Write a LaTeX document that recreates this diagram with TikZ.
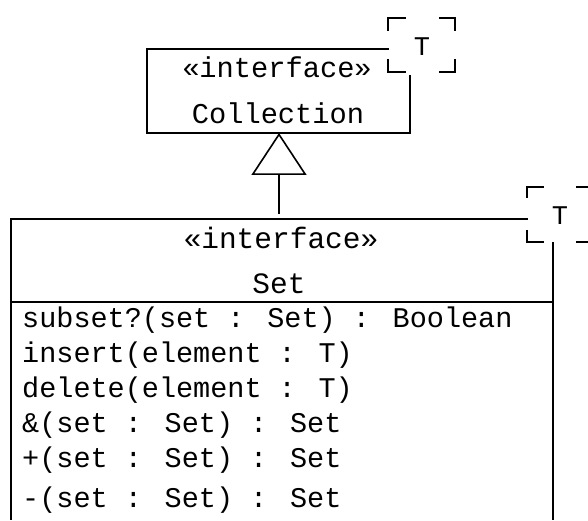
\documentclass[tikz,border=0pt]{standalone}
\usepackage{fontspec}
\setmainfont{Liberation Mono}
\usetikzlibrary{arrows.meta}
\tikzset{
  umlline/.style={line width=1.6pt, line cap=rect},
  bracketline/.style={line width=1.6pt, line cap=rect},
  optext/.style={inner sep=0pt, anchor=base west, font=\fontsize{28.5}{34}\selectfont},
  headtext/.style={inner sep=0pt, anchor=base, font=\fontsize{29.5}{35}\selectfont},
  collhead/.style={inner sep=0pt, anchor=base, font=\fontsize{28.7}{34}\selectfont},
  tparam/.style={inner sep=0pt, anchor=base, font=\fontsize{27}{32}\selectfont},
  genarrow/.style={line width=1.6pt, -{Triangle[open, length=42pt, width=55pt, line width=1.6pt]}}
}
\begin{document}
\begin{tikzpicture}[x=1pt,y=-1pt]
\useasboundingbox (0,0) rectangle (588,521);

% ---------- Collection box ----------
\coordinate (cNW) at (147,49);
\coordinate (cSW) at (147,133);
\coordinate (cSE) at (410,133);
\coordinate (cTopEnd) at (388,49);
\coordinate (cRightStart) at (410,76);
\draw[umlline] (cTopEnd) -- (cNW) -- (cSW) -- (cSE) -- (cRightStart);
\node[collhead] (collstereo) at (277,78) {«interface»};
\node[collhead] (collname) at (278,124) {Collection};

% template bracket of Collection
\draw[bracketline] (388,30) -- (388,18) -- (405,18);
\draw[bracketline] (440,18) -- (455,18) -- (455,30);
\draw[bracketline] (388,60) -- (388,72) -- (405,72);
\draw[bracketline] (440,72) -- (455,72) -- (455,60);
\node[tparam] (collT) at (422,56) {T};

% ---------- Set box ----------
\coordinate (sTopEnd) at (527,219);
\coordinate (sNW) at (11,219);
\coordinate (sSW) at (11,519);
\coordinate (sRightStart) at (553,243);
\coordinate (sSE) at (553,519);
\draw[umlline] (sTopEnd) -- (sNW) -- (sSW);
\draw[umlline] (sRightStart) -- (sSE);
\coordinate (divW) at (11,302);
\coordinate (divE) at (553,302);
\draw[umlline] (divW) -- (divE);

\node[headtext] (setstereo) at (281,248) {«interface»};
\node[headtext] (setname) at (279,293) {Set};

% template bracket of Set
\draw[bracketline] (527,197) -- (527,187) -- (543,187);
\draw[bracketline] (577,187) -- (593,187) -- (593,197);
\draw[bracketline] (527,231) -- (527,242) -- (543,242);
\draw[bracketline] (577,242) -- (593,242) -- (593,231);
\node[tparam] (setT) at (560,224) {T};

% operations
\node[optext] (op1) at (22,327) {subset?(set : Set) : Boolean};
\node[optext] (op2) at (22,362) {insert(element : T)};
\node[optext] (op3) at (22,397) {delete(element : T)};
\node[optext] (op4) at (22,432) {\&(set : Set) : Set};
\node[optext] (op5) at (22,467) {+(set : Set) : Set};
\node[optext] (op6) at (22,507) {-(set : Set) : Set};

% ---------- generalization ----------
\coordinate (setTop) at (279,214);
\coordinate (collBot) at (279,133);
\draw[genarrow] (setTop) -- (collBot);
\end{tikzpicture}
\end{document}
